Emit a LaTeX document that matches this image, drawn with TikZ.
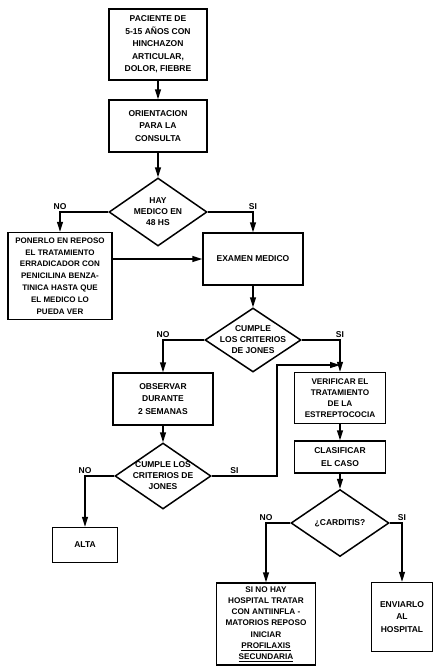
\documentclass[tikz,border=0pt]{standalone}
\usepackage{fontspec}
\setmainfont{Liberation Sans}
\usepackage{tikz}
\usetikzlibrary{arrows.meta, positioning, shapes.geometric}

\tikzset{
	caja/.style={draw, line width=1.5pt, align=center, inner sep=1pt, font=\bfseries\fontsize{8.5}{12.5}\selectfont},
	rombo/.style={draw, diamond, line width=1.5pt, align=center, inner xsep=-10pt, inner ysep=-6pt, aspect=1.5, font=\bfseries\fontsize{8.5}{11}\selectfont},
	flecha/.style={line width=1.5pt, -{Triangle[length=10pt, width=6pt]}},
	etiq/.style={font=\bfseries\fontsize{8.5}{9}\selectfont, inner sep=2pt}
}

\begin{document}
\begin{tikzpicture}[x=1pt, y=-1pt]
				\useasboundingbox (0, 0) rectangle (434, 667);
				% Boxes and decisions:
				\node[caja, minimum width=98pt, minimum height=71pt] (paciente) at (158, 44.5) {PACIENTE DE\\5-15 AÑOS CON\\HINCHAZON\\ARTICULAR,\\DOLOR, FIEBRE};
				\node[caja, minimum width=98pt, minimum height=52pt] (orient) at (158, 126) {ORIENTACION\\PARA LA\\CONSULTA};
				\node[rombo, minimum width=98pt, minimum height=68pt] (hay) at (158, 212) {HAY\\MEDICO EN\\48 HS};
				\node[caja, minimum width=104pt, minimum height=87pt, font=\bfseries\fontsize{8}{11.8}\selectfont] (reposo) at (60, 276) {PONERLO EN REPOSO\\EL TRATAMIENTO\\ERRADICADOR CON\\PENICILINA BENZA-\\TINICA HASTA QUE\\EL MEDICO LO\\PUEDA VER};
				\node[caja, minimum width=100pt, minimum height=52pt] (examen) at (253, 259) {EXAMEN MEDICO};
				\node[rombo, minimum width=96pt, minimum height=64pt] (jones) at (253, 340) {CUMPLE\\LOS CRITERIOS\\DE JONES};
				\node[caja, minimum width=100pt, minimum height=52pt] (observar) at (163, 399) {OBSERVAR\\DURANTE\\2 SEMANAS};
				\node[caja, minimum width=91pt, minimum height=51pt, font=\bfseries\fontsize{8.2}{11}\selectfont] (verificar) at (340, 398) {VERIFICAR EL\\TRATAMIENTO\\DE LA\\ESTREPTOCOCIA};
				\node[caja, minimum width=91pt, minimum height=32pt] (clasificar) at (340, 457) {CLASIFICAR\\EL CASO};
				\node[rombo, minimum width=96pt, minimum height=66pt] (jonesdos) at (163, 476) {CUMPLE LOS\\CRITERIOS DE\\JONES};
				\node[caja, minimum width=65pt, minimum height=35pt] (alta) at (85, 545) {ALTA};
				\node[rombo, minimum width=98pt, minimum height=67pt] (carditis) at (340, 523) {¿CARDITIS?};
				\node[caja, minimum width=99pt, minimum height=82pt, font=\bfseries\fontsize{8.2}{11.2}\selectfont] (tratar) at (266, 624) {SI NO HAY\\HOSPITAL TRATAR\\CON ANTIINFLA -\\MATORIOS REPOSO\\INICIAR\\\underline{PROFILAXIS}\\\underline{SECUNDARIA}};
				\node[caja, minimum width=61pt, minimum height=69pt] (enviar) at (402, 617) {ENVIARLO\\AL\\HOSPITAL};
				\coordinate (junta) at (340, 365);
				% Connectors:
				\draw[flecha] (paciente) -- (orient);
				\draw[flecha] (orient) -- (hay);
				\draw[flecha] (hay.west) -| node[etiq, above] {NO} (reposo.north);
				\draw[flecha] (hay.east) -| node[etiq, above] {SI} (examen.north);
				\draw[flecha] (reposo.east |- examen.west) -- (examen.west);
				\draw[flecha] (examen) -- (jones);
				\draw[flecha] (jones.west) -| node[etiq, above] {NO} (observar.north);
				\draw[flecha] (jones.east) -| node[etiq, above] {SI} (verificar.north);
				\draw[flecha] (observar) -- (jonesdos);
				\draw[flecha] (jonesdos.east) -- node[etiq, above, pos=0.35] {SI} ++(65, 0) |- (junta);
				\draw[flecha] (jonesdos.west) -| node[etiq, above] {NO} (alta.north);
				\draw[flecha] (verificar) -- (clasificar);
				\draw[flecha] (clasificar) -- (carditis);
				\draw[flecha] (carditis.west) -| node[etiq, above] {NO} (tratar.north);
				\draw[flecha] (carditis.east) -| node[etiq, above] {SI} (enviar.north);
\end{tikzpicture}
\end{document}
